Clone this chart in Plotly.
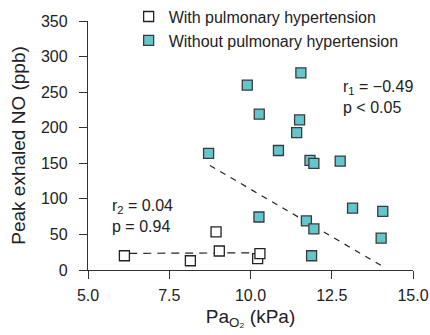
import plotly.graph_objects as go

# Without pulmonary hypertension (cyan)
x_without = [11.55, 9.9, 10.27, 11.51, 11.42, 10.86, 11.83, 11.95, 12.76, 8.71, 10.26,
             11.72, 11.95, 13.14, 14.07, 14.02, 11.88]
y_without = [277, 260, 219, 211, 193, 168, 154, 150, 153, 164, 74.5,
             69, 57.7, 87, 82.5, 44.7, 20]

# With pulmonary hypertension (white)
x_with = [6.12, 8.15, 8.94, 9.04, 10.22, 10.29]
y_with = [20, 13, 53.5, 26.7, 16, 23]

# Regression lines (fit endpoints)
fit1_x = [8.75, 14.07]
fit1_y = [147, 5]
fit2_x = [6.27, 10.3]
fit2_y = [23.4, 24.2]

x_ticks = [5.0, 7.5, 10.0, 12.5, 15.0]
y_ticks = [0, 50, 100, 150, 200, 250, 300, 350]

FONT = "Liberation Sans, Arial, sans-serif"
CYAN = "#64c6cd"
EDGE = "#3a3a3a"

fig = go.Figure()
fig.add_trace(go.Scatter(x=fit1_x, y=fit1_y, mode="lines", showlegend=False,
                         line=dict(color="#222", width=1.2, dash="6px,6px")))
fig.add_trace(go.Scatter(x=fit2_x, y=fit2_y, mode="lines", showlegend=False,
                         line=dict(color="#222", width=1.2, dash="8px,6px")))
fig.add_trace(go.Scatter(x=x_with, y=y_with, mode="markers",
                         name="With pulmonary hypertension",
                         marker=dict(symbol="square", size=10, color="white",
                                     line=dict(color="#222", width=1.3))))
fig.add_trace(go.Scatter(x=x_without, y=y_without, mode="markers",
                         name="Without pulmonary hypertension",
                         marker=dict(symbol="square", size=10, color=CYAN,
                                     line=dict(color=EDGE, width=1.3))))

ann_font = dict(family=FONT, size=16, color="#222")
fig.add_annotation(x=12.78, y=257, text="r<sub>1</sub> = −0.49", showarrow=False,
                   xanchor="left", yanchor="middle", font=ann_font)
fig.add_annotation(x=12.78, y=229, text="p &lt; 0.05", showarrow=False,
                   xanchor="left", yanchor="middle", font=ann_font)
fig.add_annotation(x=5.68, y=89, text="r<sub>2</sub> = 0.04", showarrow=False,
                   xanchor="left", yanchor="middle", font=ann_font)
fig.add_annotation(x=5.68, y=60.5, text="p = 0.94", showarrow=False,
                   xanchor="left", yanchor="middle", font=ann_font)

fig.update_layout(
    width=430, height=335,
    margin=dict(l=88, r=17, t=21, b=65, autoexpand=False),
    paper_bgcolor="white", plot_bgcolor="white",
    font=dict(family=FONT, size=16, color="#222"),
    legend=dict(x=0.125, y=1.086, xanchor="left", yanchor="top",
                bgcolor="rgba(0,0,0,0)", font=dict(size=16),
                tracegroupgap=0, itemsizing="trace"),
    xaxis=dict(range=[5, 15], tickvals=x_ticks, tickformat=".1f",
               showgrid=False, zeroline=False, showline=True, automargin=False,
               linecolor="#333", linewidth=1.3, ticks="outside", ticklen=8,
               tickcolor="#333", tickwidth=1.3, ticklabelstandoff=3,
               title=dict(text="Pa<sub>O₂</sub> (kPa)", standoff=6)),
    yaxis=dict(range=[0, 350], tickvals=y_ticks, automargin=False,
               showgrid=False, zeroline=False, showline=True,
               linecolor="#333", linewidth=1.3, ticks="outside", ticklen=8,
               tickcolor="#333", tickwidth=1.3, ticklabelstandoff=8,
               title=dict(text="Peak exhaled NO (ppb)", standoff=10)),
)

fig.write_html("out.html")
